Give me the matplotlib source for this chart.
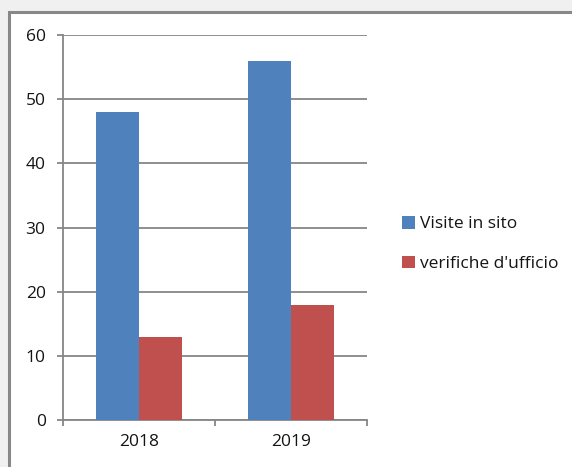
import numpy as np
import matplotlib.pyplot as plt
from matplotlib.patches import Rectangle

years = ['2018', '2019']
visite = [48, 56]
verifiche = [13, 18]
series_names = ['Visite in sito', "verifiche d'ufficio"]

blue = '#4F81BD'
red = '#C0504D'
grey = '#868686'

plt.rcParams['font.family'] = ['Open Sans', 'DejaVu Sans']

W, H = 572, 467
fig = plt.figure(figsize=(W / 100, H / 100), dpi=100, facecolor='#F0F0F0')

# white chart area with grey frame (runs off right/bottom edge)
fig.patches.append(Rectangle((9 / W, -0.1), 1.0, 1.1 - 12 / H, transform=fig.transFigure,
                             facecolor='white', edgecolor='#888888', linewidth=2.2, zorder=-1))

ax = fig.add_axes([63 / W, 1 - 420 / H, (367 - 63) / W, (420 - 35) / H])
ax.set_zorder(2)
ax.set_facecolor('none')

x = np.arange(len(years))
w = 43 / 152
ax.bar(x - w / 2, visite, w, color=blue, label=series_names[0], zorder=3)
ax.bar(x + w / 2, verifiche, w, color=red, label=series_names[1], zorder=3)

ax.set_xlim(-0.5, 1.5)
ax.set_ylim(0, 60)
ax.set_yticks(np.arange(0, 61, 10))
ax.yaxis.grid(True, color=grey, linewidth=1.3, zorder=1)
ax.set_axisbelow(True)

for s in ['top', 'right']:
    ax.spines[s].set_visible(False)
for s in ['left', 'bottom']:
    ax.spines[s].set_color(grey)
    ax.spines[s].set_linewidth(1.3)

ax.set_xticks([-0.5, 0.5, 1.5])
ax.set_xticklabels([])
ax.set_xticks(x, minor=True)
ax.set_xticklabels(years, minor=True)
ax.tick_params(axis='x', which='major', length=4.5, width=1.3, color=grey, direction='out')
ax.tick_params(axis='x', which='minor', length=0, pad=10, labelsize=12.5, labelcolor='#141414')
ax.tick_params(axis='y', length=4.5, width=1.3, color=grey, pad=8, labelsize=12.5, labelcolor='#141414')

leg = fig.legend(loc='center left', bbox_to_anchor=(386 / W, 1 - 244 / H), frameon=False,
                 fontsize=12.5, handlelength=0.75, handleheight=0.75, handletextpad=0.3,
                 labelspacing=1.35, labelcolor='#141414')
leg.set_zorder(3)

fig.savefig('out.png', dpi=100, facecolor=fig.get_facecolor())
